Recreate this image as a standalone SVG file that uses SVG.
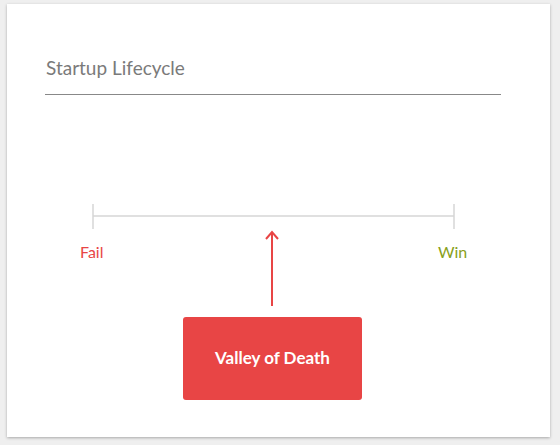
<svg xmlns="http://www.w3.org/2000/svg" width="560" height="445" viewBox="0 0 560 445">
<style>
.t{font-family:Lato,"Open Sans","Liberation Sans",sans-serif}
.tick{stroke:#d6d6d6;stroke-width:1.5;fill:none}
</style>
<defs>
<filter id="sh" x="-5%" y="-5%" width="110%" height="110%">
<feDropShadow dx="0" dy="1" stdDeviation="1.5" flood-color="#000" flood-opacity="0.3"/>
</filter>
<marker id="ah" viewBox="0 0 10 14" refX="8" refY="7" markerWidth="10" markerHeight="14" markerUnits="userSpaceOnUse" orient="auto">
<path d="M1,1 L8,7 L1,13" fill="none" stroke="#e84545" stroke-width="2"/>
</marker>
</defs>
<rect width="560" height="445" fill="#efefef"/>
<rect x="7" y="4" width="543" height="433" fill="#fff" filter="url(#sh)"/>
<g id="title">
<text class="t" x="46" y="75" font-size="19" fill="#7a7a7a">Startup Lifecycle</text>
<line x1="45" y1="94.5" x2="501" y2="94.5" stroke="#888" stroke-width="1"/>
</g>
<g id="timeline">
<line class="tick" x1="93" y1="216" x2="454" y2="216"/>
<line class="tick" x1="93" y1="204" x2="93" y2="229"/>
<line class="tick" x1="454" y1="204" x2="454" y2="229"/>
</g>
<g id="fail"><text class="t" x="80" y="258" font-size="16" fill="#e84545">Fail</text></g>
<g id="win"><text class="t" x="438" y="258" font-size="16" fill="#88a020">Win</text></g>
<g id="connectors">
<line x1="272" y1="306" x2="272" y2="232" stroke="#e84545" stroke-width="2" marker-end="url(#ah)"/>
</g>
<g id="valley">
<rect x="183" y="317" width="179" height="83" rx="3" fill="#e84545"/>
<text class="t" x="272.5" y="364" font-size="17" font-weight="bold" fill="#fff" text-anchor="middle">Valley of Death</text>
</g>
</svg>
